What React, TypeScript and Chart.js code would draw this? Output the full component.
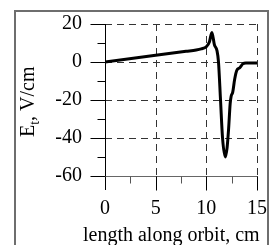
import React, { useEffect, useRef } from "react";
import { Chart, registerables } from "chart.js";

Chart.register(...registerables);

const xValues = [0, 5, 8, 9, 9.5, 10, 10.3, 10.55, 10.8, 11.05, 11.2, 11.4, 11.6, 11.87, 12.05, 12.2, 12.35, 12.45, 12.6, 12.8, 13.0, 13.3, 13.6, 13.9, 15];
const yValues = [0, 3.5, 5.6, 6.3, 6.9, 8.0, 10.5, 15.5, 9, 6, 0, -20, -40, -50, -45, -35, -22, -18, -16, -9, -4.5, -3, -1, -0.5, -0.5];
const yMajorTicks = [20, 0, -20, -40, -60];
const yMinorTicks = [10, -10, -30, -50];
const xMajorTicks = [0, 5, 10, 15];
const xMinorTicks = [2.5, 7.5, 12.5];
const yGridLines = [20, 0, -20, -40];
const xGridLines = [5, 10, 15];
const xTitle = "length along orbit, cm";
const yTitleMain = "E";
const yTitleSub = "t";
const yTitleRest = ", V/cm";

const FONT = "'Liberation Serif', 'Times New Roman', serif";

const decorPlugin = {
  id: "decor",
  beforeDatasetsDraw(chart: any) {
    const ctx = chart.ctx;
    const xs = chart.scales.x;
    const ys = chart.scales.y;
    const x0 = xs.getPixelForValue(0);
    const x15 = xs.getPixelForValue(15);
    const yTop = ys.getPixelForValue(20);
    const yBot = ys.getPixelForValue(-60);
    ctx.save();
    ctx.strokeStyle = "#333";
    ctx.lineWidth = 1;
    ctx.setLineDash([7, 5]);
    for (const v of yGridLines) {
      const y = Math.round(ys.getPixelForValue(v)) + 0.5;
      ctx.beginPath();
      ctx.moveTo(x0, y);
      ctx.lineTo(x15 + 1, y);
      ctx.stroke();
    }
    for (const v of xGridLines) {
      const x = Math.round(xs.getPixelForValue(v)) + 0.5;
      ctx.beginPath();
      ctx.moveTo(x, yTop);
      ctx.lineTo(x, yBot);
      ctx.stroke();
    }
    ctx.setLineDash([]);
    ctx.strokeStyle = "#000";
    const xa = Math.round(x0) + 0.5;
    ctx.beginPath();
    ctx.moveTo(xa, yTop);
    ctx.lineTo(xa, yBot + 14);
    ctx.stroke();
    for (const v of yMajorTicks) {
      const y = Math.round(ys.getPixelForValue(v)) + 0.5;
      ctx.beginPath();
      ctx.moveTo(xa - 15, y);
      ctx.lineTo(xa, y);
      ctx.stroke();
    }
    for (const v of yMinorTicks) {
      const y = Math.round(ys.getPixelForValue(v)) + 0.5;
      ctx.beginPath();
      ctx.moveTo(xa - 8, y);
      ctx.lineTo(xa, y);
      ctx.stroke();
    }
    const ya = Math.round(yBot) + 0.5;
    ctx.strokeStyle = "#666";
    ctx.beginPath();
    ctx.moveTo(xa, ya);
    ctx.lineTo(x15 + 1, ya);
    ctx.stroke();
    ctx.strokeStyle = "#000";
    for (const v of xMajorTicks) {
      if (v === 0) continue;
      const x = Math.round(xs.getPixelForValue(v)) + 0.5;
      ctx.beginPath();
      ctx.moveTo(x, ya);
      ctx.lineTo(x, ya + 14);
      ctx.stroke();
    }
    ctx.strokeStyle = "#555";
    for (const v of xMinorTicks) {
      const x = Math.round(xs.getPixelForValue(v)) + 0.5;
      ctx.beginPath();
      ctx.moveTo(x, ya);
      ctx.lineTo(x, ya + 7);
      ctx.stroke();
    }
    ctx.restore();
  },
  afterDraw(chart: any) {
    const ctx = chart.ctx;
    ctx.save();
    ctx.strokeStyle = "#6e6e6e";
    ctx.lineWidth = 2;
    ctx.beginPath();
    ctx.moveTo(15, 245);
    ctx.lineTo(15, 11);
    ctx.lineTo(268, 11);
    ctx.lineTo(268, 245);
    ctx.stroke();
    ctx.fillStyle = "#000";
    ctx.font = `20px ${FONT}`;
    ctx.textBaseline = "alphabetic";
    ctx.textAlign = "left";
    ctx.fillText(xTitle, 83, 241);
    ctx.translate(34, 137);
    ctx.rotate(-Math.PI / 2);
    ctx.font = `20px ${FONT}`;
    ctx.fillText(yTitleMain, 0, 0);
    let w = ctx.measureText(yTitleMain).width;
    ctx.font = `14px ${FONT}`;
    ctx.fillText(yTitleSub, w, 5);
    w += ctx.measureText(yTitleSub).width;
    ctx.font = `20px ${FONT}`;
    ctx.fillText(yTitleRest, w, 0);
    ctx.restore();
  },
};

export default function App() {
  const ref = useRef<HTMLCanvasElement>(null);
  useEffect(() => {
    if (!ref.current) return;
    const chart = new Chart(ref.current, {
      type: "line",
      data: {
        datasets: [
          {
            data: xValues.map((x, i) => ({ x, y: yValues[i] })),
            borderColor: "#000",
            borderWidth: 3,
            pointRadius: 0,
            cubicInterpolationMode: "monotone",
            fill: false,
          },
        ],
      },
      options: {
        animation: false,
        responsive: false,
        maintainAspectRatio: false,
        layout: { padding: { top: 24, right: 14, left: 0, bottom: 0 } },
        plugins: { legend: { display: false }, tooltip: { enabled: false } },
        scales: {
          x: {
            type: "linear",
            min: 0,
            max: 15,
            grid: { display: false, drawTicks: false },
            border: { display: false },
            ticks: {
              stepSize: 2.5,
              autoSkip: false,
              maxRotation: 0,
              padding: 21,
              color: "#000",
              font: { family: FONT, size: 20 },
              callback: (v: any) => (Number(v) % 5 === 0 ? String(v) : ""),
            },
            afterFit: (s: any) => {
              s.height = 69;
              s.paddingLeft = 0;
              s.paddingRight = 0;
              s.paddingTop = 0;
              s.paddingBottom = 0;
            },
          },
          y: {
            type: "linear",
            min: -60,
            max: 20,
            grid: { display: false, drawTicks: false },
            border: { display: false },
            ticks: {
              stepSize: 10,
              autoSkip: false,
              padding: 23,
              color: "#000",
              font: { family: FONT, size: 20 },
              callback: (v: any) => (Number(v) % 20 === 0 ? String(v) : ""),
            },
            afterFit: (s: any) => {
              s.width = 105;
              s.paddingLeft = 0;
              s.paddingRight = 0;
              s.paddingTop = 0;
              s.paddingBottom = 0;
            },
          },
        },
      },
      plugins: [decorPlugin],
    });
    return () => chart.destroy();
  }, []);
  return (
    <div style={{ position: "absolute", left: 0, top: 0, width: 271, height: 245, background: "#fff" }}>
      <canvas ref={ref} width={271} height={245} style={{ display: "block" }} />
    </div>
  );
}
